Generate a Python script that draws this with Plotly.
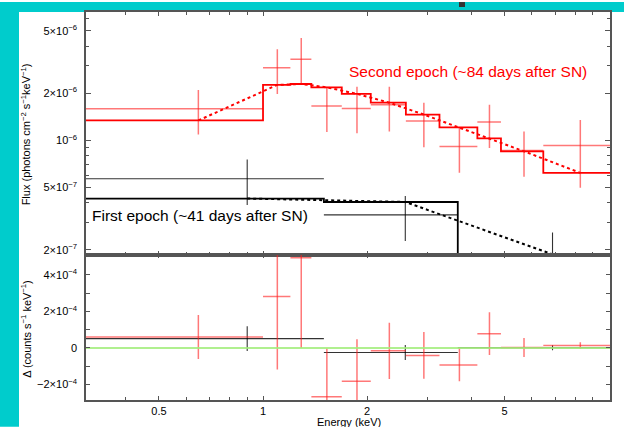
import numpy as np
import plotly.graph_objects as go

# ---------------- data ----------------
# Second epoch (red)
red_lo = [0.30, 1.00, 1.20, 1.38, 1.69, 2.05, 2.59, 3.24, 4.17, 4.88, 6.47]
red_hi = [1.00, 1.20, 1.38, 1.69, 2.05, 2.59, 3.24, 4.17, 4.88, 6.47, 10.1]
red_e = [0.65, 1.10, 1.29, 1.53, 1.87, 2.32, 2.92, 3.70, 4.52, 5.69, 8.28]
red_flux = [1.59e-6, 2.91e-6, 3.30e-6, 1.66e-6, 1.60e-6, 1.69e-6, 1.33e-6, 9.12e-7, 1.31e-6, 8.60e-7, 9.26e-7]
red_flux_up = [2.10e-6, 3.82e-6, 4.51e-6, 2.20e-6, 2.20e-6, 2.20e-6, 1.74e-6, 1.20e-6, 1.69e-6, 1.14e-6, 1.35e-6]
red_flux_dn = [1.09e-6, 1.98e-6, 2.29e-6, 1.13e-6, 1.11e-6, 1.14e-6, 9.03e-7, 6.20e-7, 8.93e-7, 5.85e-7, 4.98e-7]
red_model = [1.34e-6, 2.26e-6, 2.29e-6, 2.18e-6, 1.98e-6, 1.74e-6, 1.46e-6, 1.21e-6, 1.03e-6, 8.51e-7, 6.20e-7]
red_resid = [6.0e-5, 2.82e-4, 4.93e-4, -2.67e-4, -1.83e-4, -1.6e-5, -4.1e-5, -9.3e-5, 7.8e-5, 2e-6, 1.3e-5]
red_resid_err = [1.2e-4, 4.0e-4, 4.93e-4, 2.64e-4, 2.30e-4, 1.54e-4, 1.28e-4, 9.0e-5, 1.17e-4, 5.2e-5, 1.8e-5]

# First epoch (black)
black_lo = [0.30, 1.50, 3.66]
black_hi = [1.50, 3.66, 10.1]
black_e = [0.90, 2.58, 6.88]
black_flux = [5.68e-7, 3.34e-7, 1.60e-7]
black_flux_up = [7.54e-7, 4.41e-7, 2.58e-7]
black_flux_dn = [3.86e-7, 2.28e-7, 0.90e-7]
black_model = [4.25e-7, 4.04e-7, 1.87e-7]
black_resid = [5.1e-5, -2.5e-5, 1e-6]
black_resid_err = [6.8e-5, 4.1e-5, 1.4e-5]

# axis ticks
x_tickvals = [0.5, 1, 2, 5]
x_ticktext = ["0.5", "1", "2", "5"]
x_minor = [0.4, 0.6, 0.7, 0.8, 0.9, 3, 4, 6, 7, 8, 9]
y_tickvals = [2e-7, 5e-7, 1e-6, 2e-6, 5e-6]
y_ticktext = ["2×10<sup>−7</sup>", "5×10<sup>−7</sup>", "10<sup>−6</sup>",
              "2×10<sup>−6</sup>", "5×10<sup>−6</sup>"]
y_minor = [3e-7, 4e-7, 6e-7, 7e-7, 8e-7, 9e-7, 3e-6, 4e-6, 6e-6]
r_tickvals = [-2e-4, 0, 2e-4, 4e-4]
r_ticktext = ["−2×10<sup>−4</sup>", "0", "2×10<sup>−4</sup>", "4×10<sup>−4</sup>"]
r_minor = [-1e-4, 1e-4, 3e-4, 5e-4]

# ---------------- styling ----------------
FONT = "Liberation Sans, Arial, Helvetica, sans-serif"
RED_DATA = "rgba(255,30,30,0.6)"
RED = "rgb(255,0,0)"
BLK_DATA = "rgba(0,0,0,0.8)"
BLK = "rgb(0,0,0)"
GREEN = "#a3ee7c"
AX = "#555555"

W, H = 624, 427
ml, mr, mt, mb = 86, 14, 10, 27
plot_h = H - mt - mb
split = (400 - 254) / plot_h


def arr(a):
    return np.array(a, dtype=float)


fig = go.Figure()


def add_data(xe, lo, hi, y, yup, ydn, color, xa, ya, width=1.5):
    xe, lo, hi, y = arr(xe), arr(lo), arr(hi), arr(y)
    fig.add_trace(go.Scatter(
        x=xe, y=y, mode="markers", xaxis=xa, yaxis=ya,
        marker=dict(size=1, color="rgba(0,0,0,0)"),
        error_x=dict(type="data", symmetric=False, array=hi - xe, arrayminus=xe - lo,
                     width=0, thickness=width, color=color),
        error_y=dict(type="data", symmetric=False,
                     array=arr(yup) - y, arrayminus=y - arr(ydn),
                     width=0, thickness=width, color=color),
        showlegend=False, hoverinfo="skip"))


def add_step(lo, hi, vals, color, xa, ya, width=1.8):
    xs = list(lo) + [hi[-1]]
    ys = list(vals) + [vals[-1]]
    fig.add_trace(go.Scatter(x=xs, y=ys, mode="lines", line=dict(color=color, width=width, shape="hv"),
                             xaxis=xa, yaxis=ya, showlegend=False, hoverinfo="skip"))


# top panel
add_data(black_e, black_lo, black_hi, black_flux, black_flux_up, black_flux_dn, BLK_DATA, "x", "y", 1.1)
add_step(black_lo, black_hi, black_model, BLK, "x", "y")
fig.add_trace(go.Scatter(x=black_e, y=black_model, mode="lines",
                         line=dict(color=BLK, width=2, dash="dot"),
                         xaxis="x", yaxis="y", showlegend=False, hoverinfo="skip"))
add_data(red_e, red_lo, red_hi, red_flux, red_flux_up, red_flux_dn, RED_DATA, "x", "y", 1.5)
add_step(red_lo, red_hi, red_model, RED, "x", "y")
fig.add_trace(go.Scatter(x=red_e, y=red_model, mode="lines",
                         line=dict(color=RED, width=2, dash="dot"),
                         xaxis="x", yaxis="y", showlegend=False, hoverinfo="skip"))

# residual panel
rr, rre = arr(red_resid), arr(red_resid_err)
br, bre = arr(black_resid), arr(black_resid_err)
add_data(black_e, black_lo, black_hi, br, br + bre, br - bre, BLK_DATA, "x2", "y2", 1.1)
add_data(red_e, red_lo, red_hi, rr, rr + rre, rr - rre, RED_DATA, "x2", "y2", 1.5)
fig.add_trace(go.Scatter(x=[red_lo[0], red_hi[-1]], y=[0, 0], mode="lines",
                         line=dict(color=GREEN, width=2), opacity=0.85,
                         xaxis="x2", yaxis="y2", showlegend=False, hoverinfo="skip"))

xrange = [np.log10(0.3075), np.log10(10.09)]
common_x = dict(type="log", range=xrange, ticks="inside", ticklen=4, tickcolor=AX, tickwidth=1,
                showline=True, linecolor=AX, linewidth=1.5, mirror="ticks", showgrid=False,
                zeroline=False, tickvals=x_tickvals, ticktext=x_ticktext,
                minor=dict(tickvals=x_minor, ticks="inside", ticklen=3, tickcolor=AX, showgrid=False),
                tickfont=dict(family=FONT, size=11, color="black"))

fig.update_layout(
    width=W, height=H, margin=dict(l=ml, r=mr, t=mt, b=mb),
    paper_bgcolor="white", plot_bgcolor="white",
    font=dict(family=FONT, size=11, color="black"),
    xaxis=dict(**common_x, domain=[0, 1], anchor="y", showticklabels=False),
    xaxis2=dict(**common_x, domain=[0, 1], anchor="y2", matches="x", showticklabels=True),
    yaxis=dict(type="log", domain=[split, 1], anchor="x",
               range=[-6.7306, -5.1804], ticks="inside", ticklen=5, tickcolor=AX,
               showline=True, linecolor=AX, linewidth=1.5, mirror="ticks", showgrid=False,
               tickvals=y_tickvals, ticktext=y_ticktext, ticklabelstandoff=5,
               minor=dict(tickvals=y_minor, ticks="inside", ticklen=3, tickcolor=AX, showgrid=False),
               tickfont=dict(family=FONT, size=11, color="black")),
    yaxis2=dict(domain=[0, split], anchor="x2",
                range=[-2.85e-4, 5.1e-4], ticks="inside", ticklen=4, tickcolor=AX,
                showline=True, linecolor=AX, linewidth=1.5, mirror="ticks", showgrid=False,
                zeroline=False, tickvals=r_tickvals, ticktext=r_ticktext, ticklabelstandoff=5,
                minor=dict(tickvals=r_minor, ticks="inside", ticklen=4, tickcolor=AX, showgrid=False),
                tickfont=dict(family=FONT, size=11, color="black")),
)


def px_x(p):
    return (p - ml) / (W - ml - mr)


def px_y(p):
    return (H - mb - p) / plot_h


annots = [
    dict(text="Second epoch (~84 days after SN)", x=px_x(467.5), y=px_y(69.5),
         font=dict(family=FONT, size=15.5, color=RED)),
    dict(text="First epoch (~41 days after SN)", x=px_x(200), y=px_y(214.3),
         font=dict(family=FONT, size=15.5, color="black")),
    dict(text="Flux (photons cm<sup>−2</sup> s<sup>−1</sup>keV<sup>−1</sup>)", x=px_x(26), y=px_y(133),
         textangle=-90, font=dict(family=FONT, size=11, color="black")),
    dict(text="Δ (counts s<sup>−1</sup> keV<sup>−1</sup>)", x=px_x(26.5), y=px_y(329),
         textangle=-90, font=dict(family=FONT, size=11, color="black")),
    dict(text="Energy (keV)", x=px_x(349), y=px_y(422),
         font=dict(family=FONT, size=11, color="black")),
]
for a in annots:
    fig.add_annotation(xref="paper", yref="paper", showarrow=False,
                       xanchor="center", yanchor="middle", **a)

CYAN = "#00cccc"
fig.add_shape(type="rect", xref="paper", yref="paper", layer="below",
              x0=px_x(0), x1=px_x(19), y0=px_y(H), y1=px_y(0),
              fillcolor=CYAN, line=dict(width=0))
fig.add_shape(type="rect", xref="paper", yref="paper", layer="below",
              x0=px_x(0), x1=px_x(W), y0=px_y(10), y1=px_y(0),
              fillcolor=CYAN, line=dict(width=0))
fig.add_shape(type="rect", xref="paper", yref="paper", layer="above",
              x0=px_x(459), x1=px_x(465), y0=px_y(5), y1=px_y(0),
              fillcolor="#333333", line=dict(width=0))

fig.write_html("out.html")
